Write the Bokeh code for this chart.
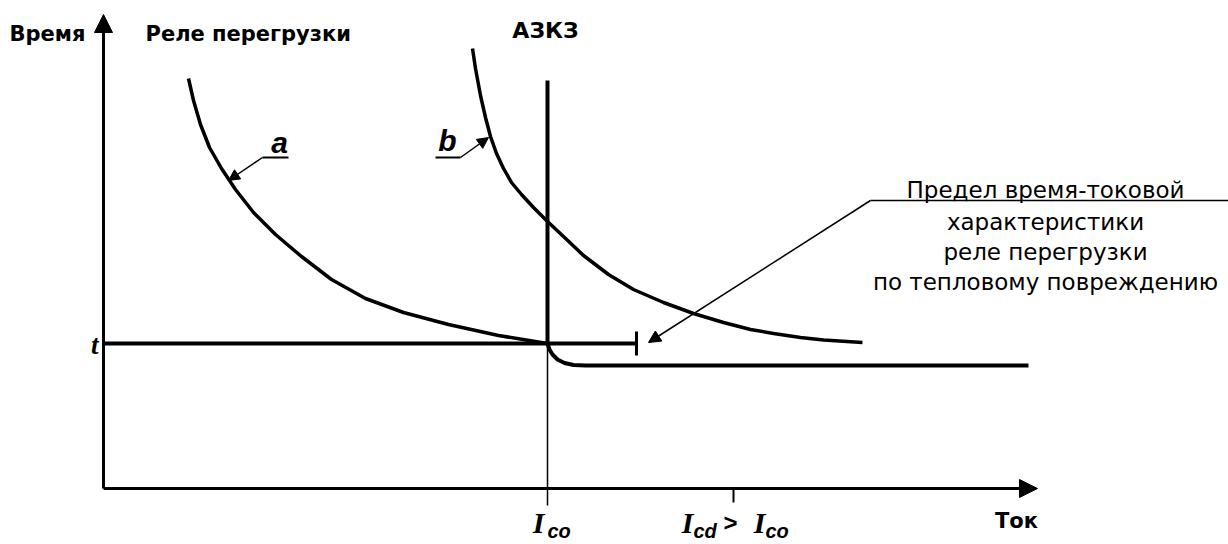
from bokeh.plotting import figure
from bokeh.models import Range1d, Arrow, NormalHead
from bokeh.core.properties import value
from bokeh.embed import file_html
from bokeh.resources import INLINE

# ---- schematic data (current to the right, time upward, origin at the axes' crossing) ----
curve_a_current = [85, 90, 97, 106, 118, 132, 150, 172, 198, 228, 262, 300, 345, 395, 444]
curve_a_time = [410, 388, 364, 341, 320, 299, 276, 254, 232, 209, 190, 176, 164, 153, 145]

curve_b_current = [369, 372, 377, 382, 387, 393, 400, 408, 418, 430, 444, 460, 480, 505, 530, 560,
                   590, 620, 647, 670, 697, 720, 759]
curve_b_time = [440, 420, 393, 371, 352, 335, 320, 306, 294, 281, 267, 252, 233, 214, 199, 186,
                175, 166, 159, 155, 151, 148.5, 146]

asc_current = [444, 446, 449, 454, 461, 470, 482, 925]
asc_time = [145, 139, 134, 129, 125.5, 123.5, 123, 123]

I_co = 444
I_cd = 630
t_level = 145
thermal_limit_current = 533
asc_vertical_top = 408
axis_x_end = 934
axis_y_end = 474

note_lines = ["Предел время-токовой", "характеристики", "реле перегрузки", "по тепловому повреждению"]
note_baselines = [299, 267, 237, 207]

p = figure(width=1228, height=544, x_range=Range1d(-103, 1125), y_range=Range1d(-56, 488),
           x_axis_type=None, y_axis_type=None, toolbar_location=None, output_backend="svg",
           min_border=0, outline_line_color=None)
p.grid.visible = False
p.background_fill_color = "white"
p.border_fill_color = "white"

BLACK = "#000000"

# axes with arrow heads
p.add_layout(Arrow(x_start=0, y_start=0, x_end=0, y_end=axis_y_end, line_width=3, line_color=BLACK,
                   end=NormalHead(size=18, fill_color=BLACK, line_color=BLACK, line_width=1)))
p.add_layout(Arrow(x_start=0, y_start=0, x_end=axis_x_end, y_end=0, line_width=3, line_color=BLACK,
                   end=NormalHead(size=18, fill_color=BLACK, line_color=BLACK, line_width=1)))

# ticks
p.line([I_co, I_co], [-17, t_level], line_width=1.5, color=BLACK)
p.line([I_cd, I_cd], [0, -14], line_width=2, color=BLACK)

# curves
p.line(curve_a_current, curve_a_time, line_width=3.5, color=BLACK, line_join="round")
p.line(curve_b_current, curve_b_time, line_width=3.5, color=BLACK, line_join="round")
p.line(asc_current, asc_time, line_width=4, color=BLACK, line_join="round")

# ASC instantaneous vertical
p.line([I_co, I_co], [t_level, asc_vertical_top], line_width=4, color=BLACK)

# t level line with end stop
p.line([0, thermal_limit_current], [t_level, t_level], line_width=4, color=BLACK)
p.line([thermal_limit_current, thermal_limit_current], [t_level - 12, t_level + 12], line_width=3, color=BLACK)

# leaders a and b
p.line([159, 185], [331, 331], line_width=2, color=BLACK)
p.add_layout(Arrow(x_start=159, y_start=331, x_end=125, y_end=308, line_width=1.5, line_color=BLACK,
                   end=NormalHead(size=11, fill_color=BLACK, line_color=BLACK, line_width=1)))
p.line([332, 357], [331, 331], line_width=2, color=BLACK)
p.add_layout(Arrow(x_start=357, y_start=331, x_end=385, y_end=351, line_width=1.5, line_color=BLACK,
                   end=NormalHead(size=11, fill_color=BLACK, line_color=BLACK, line_width=1)))

# long leader to the thermal limit
p.line([1125, 767], [288, 288], line_width=1.5, color=BLACK)
p.add_layout(Arrow(x_start=767, y_start=288, x_end=545, y_end=146, line_width=1.5, line_color=BLACK,
                   end=NormalHead(size=12, fill_color=BLACK, line_color=BLACK, line_width=1)))

# texts
bold = dict(text_font=value("DejaVu Sans"), text_font_style="bold", text_color=BLACK)
p.text(x=[-18], y=[455], text=["Время"], text_font_size="21px", text_align="right",
       text_baseline="middle", **bold)
p.text(x=[42], y=[455], text=["Реле перегрузки"], text_font_size="21px", text_align="left",
       text_baseline="middle", **bold)
p.text(x=[442], y=[458], text=["АЗКЗ"], text_font_size="22px", text_align="center",
       text_baseline="middle", **bold)
p.text(x=[913], y=[-32], text=["Ток"], text_font_size="21px", text_align="center",
       text_baseline="middle", **bold)

p.text(x=[942] * len(note_lines), y=note_baselines, text=note_lines, text_font=value("DejaVu Sans"),
       text_font_size="23px", text_align="center", text_baseline="alphabetic", text_color=BLACK)

# italic symbols
p.text(x=[-5], y=[144], text=["t"], text_font=value("Liberation Serif"), text_font_style="bold italic",
       text_font_size="27px", text_align="right", text_baseline="middle", text_color=BLACK)
p.text(x=[176, 344], y=[346, 348], text=["a", "b"], text_font=value("Liberation Sans"),
       text_font_style="bold italic", text_font_size="30px", text_align="center",
       text_baseline="middle", text_color=BLACK)

p.text(x=[435, 584, 656], y=[-34, -34, -34], text=["I", "I", "I"], text_font=value("Liberation Serif"),
       text_font_style="bold italic", text_font_size="30px", text_align="center",
       text_baseline="middle", text_color=BLACK)
p.text(x=[444, 590, 662], y=[-42, -42, -42], text=["co", "cd", "co"], text_font=value("Liberation Sans"),
       text_font_style="bold italic", text_font_size="20px", text_align="left",
       text_baseline="middle", text_color=BLACK)
p.text(x=[627], y=[-34], text=[">"], text_font=value("Liberation Sans"), text_font_style="bold",
       text_font_size="24px", text_align="center", text_baseline="middle", text_color=BLACK)

open("out.html", "w").write(file_html(p, INLINE))
